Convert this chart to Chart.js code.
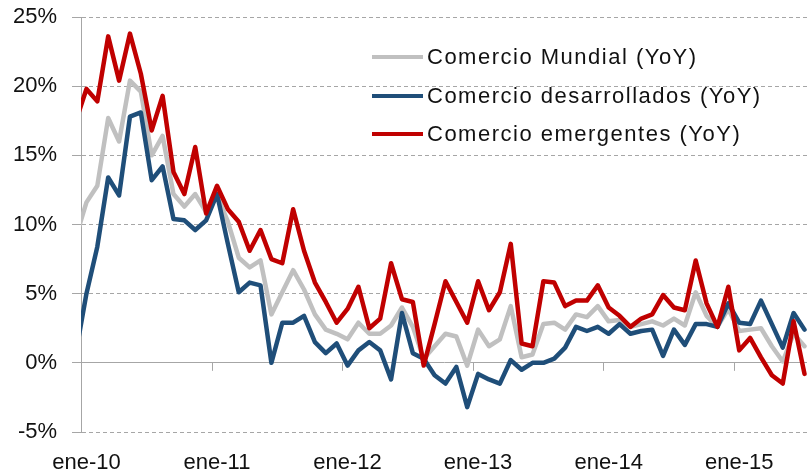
<!DOCTYPE html>
<html>
<head>
<meta charset="utf-8">
<script src="https://cdn.jsdelivr.net/npm/chart.js@4"></script>
<style>
html,body{margin:0;padding:0;background:#fff;}
#wrap{position:relative;width:807px;height:475px;}
#legend{position:absolute;left:372px;top:38px;font-family:"Liberation Sans",Arial,sans-serif;font-size:22px;letter-spacing:1.5px;color:#111;}
#legend div{height:38.5px;display:flex;align-items:center;}
#legend span.ln{display:inline-block;width:51px;height:4px;margin-right:4px;}
</style>
</head>
<body>
<div id="wrap">
<canvas id="canvas" width="807" height="475"></canvas>
<div id="legend"></div>
</div>
<script>
// first value is dic-09 (only its last bit shows at the axis), then ene-10 ... jul-15
const tickLabels=["ene-10","ene-11","ene-12","ene-13","ene-14","ene-15"];
const seriesNames=["Comercio Mundial (YoY)","Comercio desarrollados (YoY)","Comercio emergentes (YoY)"];
const mundial=[9.0,11.6,12.8,17.7,16.0,20.4,19.6,15.0,16.4,12.2,11.3,12.2,10.9,
    12.1,10.2,7.6,6.9,7.4,3.5,5.1,6.7,5.3,3.5,2.4,2.1,
    1.7,2.9,2.1,2.1,2.7,4.0,2.6,0.3,1.2,2.1,1.9,-0.2,
    2.4,1.2,1.7,4.1,0.4,0.6,2.8,2.9,2.4,3.5,3.3,4.1,
    3.0,3.1,2.6,2.8,3.0,2.7,3.2,2.7,5.1,3.4,2.6,3.9,
    2.3,2.4,2.5,1.2,0.1,2.1,1.2];
const desarrollados=[0.6,5.0,8.4,13.4,12.1,17.8,18.1,13.2,14.2,10.4,10.3,9.6,10.3,
    12.2,8.6,5.1,5.8,5.6,0.0,2.9,2.9,3.4,1.5,0.7,1.4,
    -0.2,0.9,1.5,0.9,-1.2,3.6,0.7,0.3,-0.9,-1.5,-0.3,-3.2,
    -0.8,-1.2,-1.5,0.2,-0.5,0.0,0.0,0.3,1.1,2.6,2.3,2.6,
    2.1,2.8,2.1,2.3,2.4,0.5,2.4,1.3,2.8,2.8,2.6,4.3,
    2.9,2.8,4.5,2.8,1.1,3.6,2.4];
const emergentes=[17.4,19.8,18.9,23.6,20.4,23.8,20.9,16.8,19.3,13.8,12.2,15.6,10.8,
    12.8,11.1,10.2,8.1,9.6,7.5,7.2,11.1,8.1,5.8,4.4,2.9,
    3.9,5.5,2.5,3.2,7.2,4.6,4.4,-0.2,2.8,5.9,4.4,2.9,
    5.9,3.8,5.1,8.6,1.4,1.2,5.9,5.8,4.1,4.5,4.5,5.6,
    4.0,3.4,2.6,3.2,3.5,4.9,4.0,3.8,7.4,4.3,2.6,5.5,
    0.9,1.8,0.4,-0.9,-1.5,3.0,-0.8];
const colors=["#c0c0c0","#1f4e79","#c00000"];

const font={family:"'Liberation Sans', Arial, sans-serif",size:22};
const toPoints=arr=>arr.map((v,i)=>({x:i-1,y:v}));

const yearTicks={
    id:"yearTicks",
    beforeDatasetsDraw(chart){
        const {ctx,scales:{x,y}}=chart;
        const y0=y.getPixelForValue(0);
        ctx.save();
        ctx.strokeStyle="#a6a6a6";
        ctx.lineWidth=1;
        tickLabels.forEach((t,k)=>{
            if(k===0)return;
            const px=Math.round(x.getPixelForValue(12*k-0.5))+0.5;
            ctx.beginPath();
            ctx.moveTo(px,y0);
            ctx.lineTo(px,y0+8);
            ctx.stroke();
        });
        ctx.restore();
    }
};

const ctx=document.getElementById("canvas");
const sets=[mundial,desarrollados,emergentes];
new Chart(ctx,{
    type:"line",
    data:{
        datasets:sets.map((arr,k)=>({
            label:seriesNames[k],
            data:toPoints(arr),
            borderColor:colors[k],
            backgroundColor:colors[k],
            borderWidth:4.5,
            pointRadius:0,
            tension:0,
            borderJoinStyle:"round",
            borderCapStyle:"round",
            clip:0,
            order:2-k
        }))
    },
    options:{
        responsive:false,
        animation:false,
        events:[],
        layout:{padding:{top:17,left:0,right:0,bottom:0}},
        plugins:{legend:{display:false},tooltip:{enabled:false}},
        scales:{
            x:{
                type:"linear",
                min:-0.5,
                max:66.23,
                grid:{display:false,drawTicks:false},
                border:{display:false},
                afterBuildTicks:s=>{s.ticks=tickLabels.map((t,k)=>({value:12*k}));},
                afterFit:s=>{s.height=43;s.paddingLeft=0;s.paddingRight=0;},
                ticks:{
                    autoSkip:false,
                    maxRotation:0,
                    padding:18,
                    font:font,
                    color:"#111",
                    callback:(v,i)=>tickLabels[i]
                }
            },
            y:{
                min:-5,
                max:25,
                afterFit:s=>{s.width=81;s.paddingTop=0;s.paddingBottom=0;},
                ticks:{stepSize:5,padding:15,font:font,color:"#111",callback:v=>v+"%"},
                grid:{color:"#a6a6a6",lineWidth:1,tickLength:9},
                border:{color:"#a6a6a6",dash:c=>(c.tick&&c.tick.value!==0)?[4,3]:[]}
            }
        }
    },
    plugins:[yearTicks]
});

const legend=document.getElementById("legend");
seriesNames.forEach((name,k)=>{
    const row=document.createElement("div");
    row.innerHTML='<span class="ln" style="background:'+colors[k]+'"></span>'+name;
    legend.appendChild(row);
});
</script>
</body>
</html>
